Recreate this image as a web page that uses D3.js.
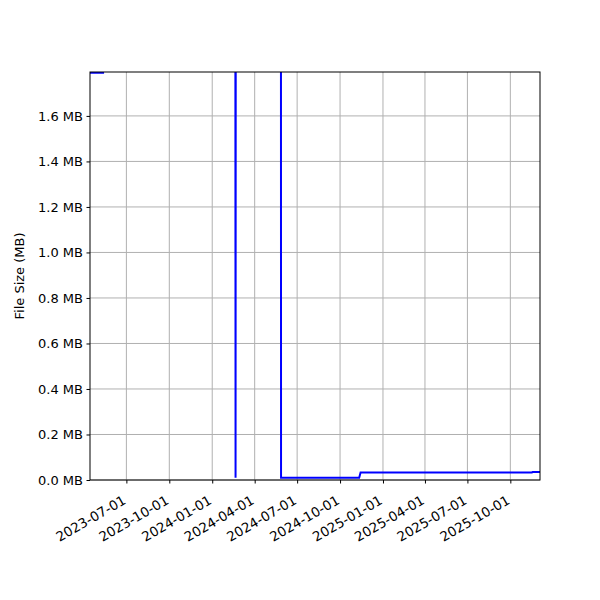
<!DOCTYPE html>
<html><head><meta charset="utf-8">
<script src="https://cdn.jsdelivr.net/npm/d3@7"></script>
<style>body{margin:0;background:#fff}</style>
</head><body>
<svg id="c" width="600" height="600"></svg>
<script>
// Data (dates and file sizes in MB); values above axis top are clipped
const dates = ["2023-04-14","2023-05-12","2023-05-12T12:00","2024-02-19","2024-02-20","2024-02-21","2024-05-27","2024-05-27T12:00","2024-11-11","2024-11-14","2025-11-16","2025-11-18","2025-12-04"];
const sizes = [1.79,1.79,5.0,5.0,0.01,5.0,5.0,0.01,0.01,0.033,0.033,0.035,0.035];
const xTickLabels = ["2023-07-01","2023-10-01","2024-01-01","2024-04-01","2024-07-01","2024-10-01","2025-01-01","2025-04-01","2025-07-01","2025-10-01"];
const yTicks = [0,0.2,0.4,0.6,0.8,1.0,1.2,1.4,1.6];
const yLabel = "File Size (MB)";

const parse = s => new Date(s.length > 10 ? s : s + "T00:00");
const data = dates.map((d,i) => ({d: parse(d), v: sizes[i]}));
const L=90, R=540, T=72, B=480;
const svg = d3.select("#c");
const x = d3.scaleTime().domain([parse("2023-04-14"), parse("2025-12-03T14:00")]).range([L,R]);
const y = d3.scaleLinear().domain([0,1.793]).range([B,T]);
const font = "DejaVu Sans, sans-serif";

// grid
const g = svg.append("g");
const xt = xTickLabels.map(parse);
g.selectAll(".gx").data(xt).enter().append("line")
  .attr("x1",d=>x(d)).attr("x2",d=>x(d)).attr("y1",T).attr("y2",B)
  .attr("stroke","#b0b0b0").attr("stroke-width",1);
g.selectAll(".gy").data(yTicks).enter().append("line")
  .attr("x1",L).attr("x2",R).attr("y1",d=>y(d)).attr("y2",d=>y(d))
  .attr("stroke","#b0b0b0").attr("stroke-width",1);

// line clipped
svg.append("clipPath").attr("id","clip").append("rect").attr("x",L).attr("y",T).attr("width",R-L).attr("height",B-T);
svg.append("path").datum(data).attr("clip-path","url(#clip)")
  .attr("d", d3.line().x(d=>x(d.d)).y(d=>y(d.v)))
  .attr("fill","none").attr("stroke","#0000ff").attr("stroke-width",2);

// axes
const xa = svg.append("g").attr("transform",`translate(0,${B})`)
  .call(d3.axisBottom(x).tickValues(xt).tickSize(3.5).tickPadding(3.5).tickFormat(d3.timeFormat("%Y-%m-%d")));
xa.select(".domain").remove();
xa.selectAll("line").attr("stroke","#000");
xa.selectAll("text").attr("font-family",font).attr("font-size",13.4).attr("fill","#000")
  .attr("text-anchor","end").attr("dy",null).attr("y",null)
  .attr("transform","translate(0,23) rotate(-30)").attr("dominant-baseline","auto");
const ya = svg.append("g").attr("transform",`translate(${L},0)`)
  .call(d3.axisLeft(y).tickValues(yTicks).tickSize(3.5).tickPadding(3.5).tickFormat(d=>d3.format(".1f")(d)+" MB"));
ya.select(".domain").remove();
ya.selectAll("line").attr("stroke","#000");
ya.selectAll("text").attr("font-family",font).attr("font-size",13).attr("fill","#000");

svg.append("rect").attr("x",L).attr("y",T).attr("width",R-L).attr("height",B-T)
  .attr("fill","none").attr("stroke","#000").attr("stroke-width",1);

svg.append("text").attr("transform",`translate(24,${(T+B)/2}) rotate(-90)`)
  .attr("text-anchor","middle").attr("font-family",font).attr("font-size",13).text(yLabel);
</script>
</body></html>
